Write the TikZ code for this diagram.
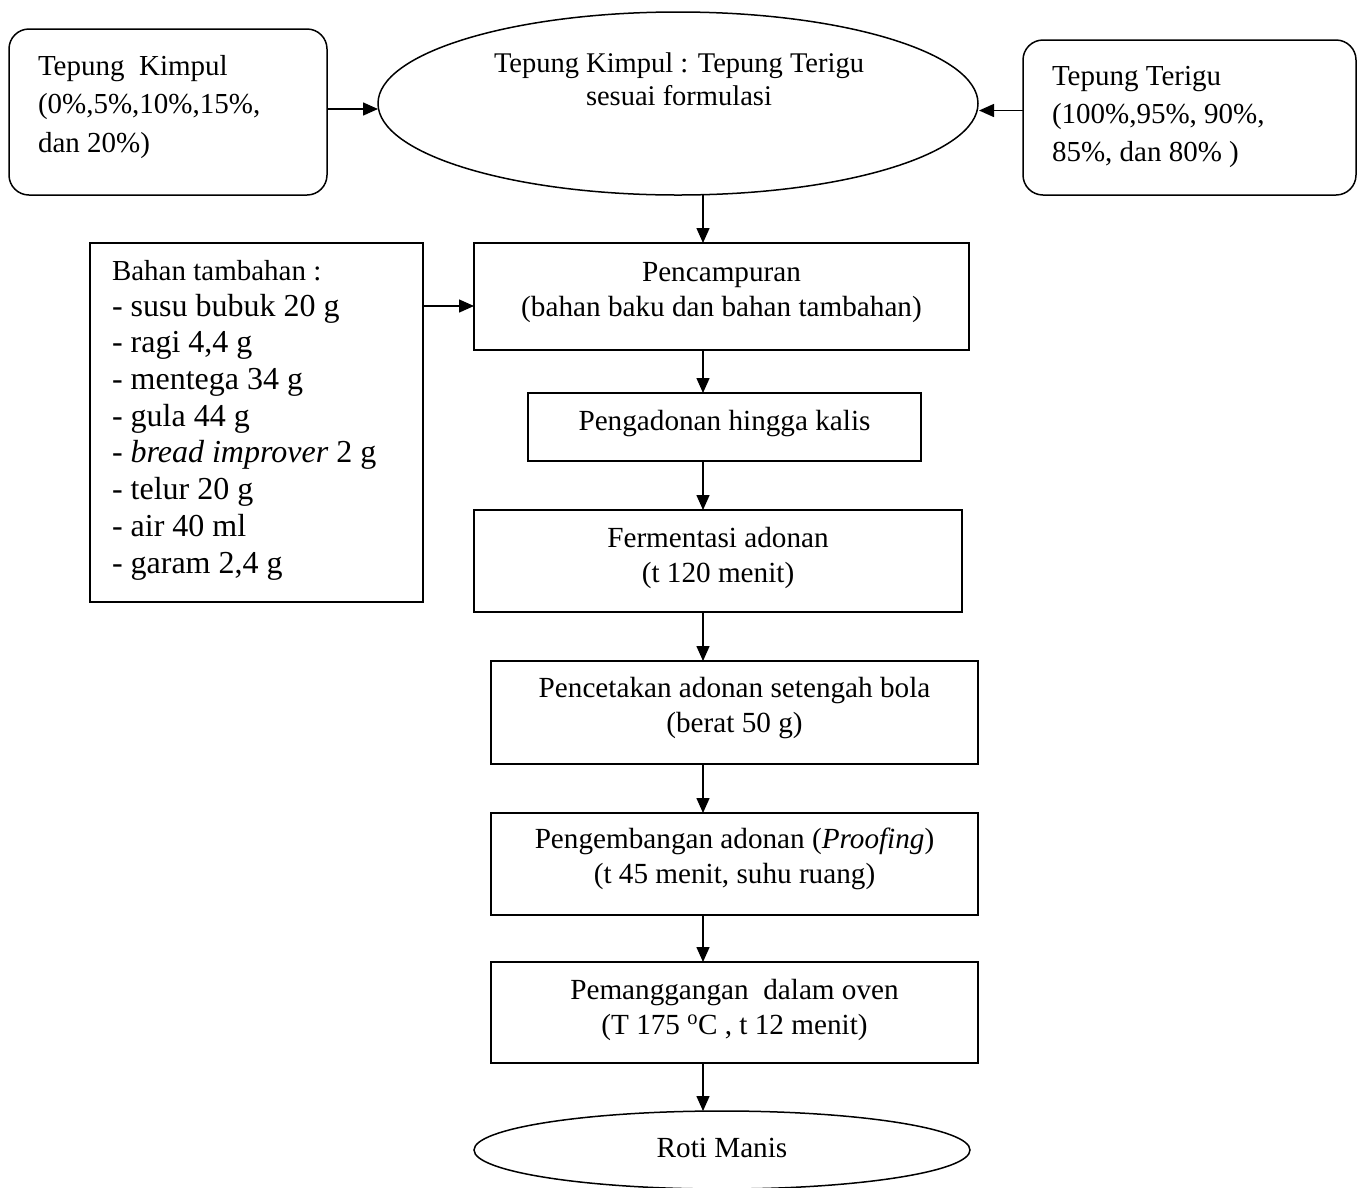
\documentclass[tikz,border=0pt]{standalone}
\usepackage{fontspec}
\setmainfont{Liberation Serif}
\usetikzlibrary{arrows.meta,shapes.geometric,calc}
\begin{document}
\begin{tikzpicture}[x=1pt,y=-1pt,
  box/.style={draw,line width=1.5pt,inner sep=0pt,outer sep=0pt,rectangle},
  rbox/.style={box,rounded corners=20pt},
  ell/.style={draw,line width=1.5pt,inner sep=0pt,outer sep=0pt,ellipse},
  arr/.style={line width=1.5pt,-{Triangle[length=15pt,width=13pt]}},
  txt/.style={inner sep=0pt,outer sep=0pt,align=center,anchor=base,font=\fontsize{29.2}{35}\selectfont},
  txtl/.style={inner sep=0pt,outer sep=0pt,align=left,anchor=base west,font=\fontsize{29}{38.5}\selectfont}]
\fill[white] (0,0) rectangle (1362,1187);
\useasboundingbox (0,0) rectangle (1362,1187);
\coordinate (col) at (703,0);

% shapes
\node[rbox,minimum width=318pt,minimum height=166pt] (kimpul) at (168,112) {};
\node[rbox,minimum width=333pt,minimum height=155pt] (terigu) at (1189.5,117.5) {};
\node[ell,minimum width=600pt,minimum height=183pt] (top) at (678,103.5) {};
\node[box,minimum width=333pt,minimum height=359pt] (bahan) at (256.5,422.5) {};
\node[box,minimum width=495pt,minimum height=107pt] (pc) at (721.5,296.5) {};
\node[box,minimum width=393pt,minimum height=68pt] (pg) at (724.5,427) {};
\node[box,minimum width=488pt,minimum height=102pt] (fe) at (718,561) {};
\node[box,minimum width=487pt,minimum height=103pt] (ct) at (734.5,712.5) {};
\node[box,minimum width=487pt,minimum height=102pt] (pr) at (734.5,864) {};
\node[box,minimum width=487pt,minimum height=101pt] (pe) at (734.5,1012.5) {};
\node[ell,minimum width=496pt,minimum height=78pt] (roti) at (722,1150) {};

% texts (anchor = baseline of the last line)
\node[txtl] (tk) at (38,152) {Tepung\hspace{0.5em}Kimpul\\(0\%,5\%,10\%,15\%,\\dan 20\%)};
\node[txtl,font=\fontsize{29}{38}\selectfont] (tt) at (1052,161) {Tepung Terigu\\(100\%,95\%, 90\%,\\85\%, dan 80\% )};
\node[txt,font=\fontsize{28.5}{33.5}\selectfont] (ttop) at (679,105.5) {Tepung Kimpul : Tepung Terigu\\sesuai formulasi};
\node[txtl] (tb1) at (112,280) {Bahan tambahan :};
\node[txtl,font=\fontsize{32}{36.7}\selectfont] (tb2) at (112,573) {- susu bubuk 20 g\\- ragi 4,4 g\\- mentega 34 g\\- gula 44 g\\- \textit{bread improver} 2 g\\- telur 20 g\\- air 40 ml\\- garam 2,4 g};
\node[txt] (tpc) at (721.5,316) {Pencampuran\\(bahan baku dan bahan tambahan)};
\node[txt] (tpg) at (724.5,430) {Pengadonan hingga kalis};
\node[txt] (tfe) at (718,582) {Fermentasi adonan\\(t 120 menit)};
\node[txt] (tct) at (734.5,732) {Pencetakan adonan setengah bola\\(berat 50 g)};
\node[txt] (tpr) at (734.5,883) {Pengembangan adonan (\textit{Proofing})\\(t 45 menit, suhu ruang)};
\node[txt] (tpe) at (734.5,1034) {Pemanggangan\hspace{0.5em}dalam oven\\(T 175 \textsuperscript{o}C , t 12 menit)};
\node[txt] (troti) at (722,1157) {Roti Manis};

% connectors
\coordinate (ka) at ($(kimpul.east)+(0,-3)$);
\draw[arr] (ka) -- (ka -| top.west);
\coordinate (ta) at ($(terigu.west)+(0,-7)$);
\draw[arr] (ta) -- ($(ta -| top.east)+(1,0)$);
\coordinate (ba) at ($(pc.west)+(0,9.5)$);
\draw[arr] (ba -| bahan.east) -- (ba);
\draw[arr] (top.south -| col) -- (pc.north -| col);
\draw[arr] (pc.south -| col) -- (pg.north -| col);
\draw[arr] (pg.south -| col) -- (fe.north -| col);
\draw[arr] (fe.south -| col) -- (ct.north -| col);
\draw[arr] (ct.south -| col) -- (pr.north -| col);
\draw[arr] (pr.south -| col) -- (pe.north -| col);
\draw[arr] (pe.south -| col) -- (roti.north -| col);
\end{tikzpicture}
\end{document}
